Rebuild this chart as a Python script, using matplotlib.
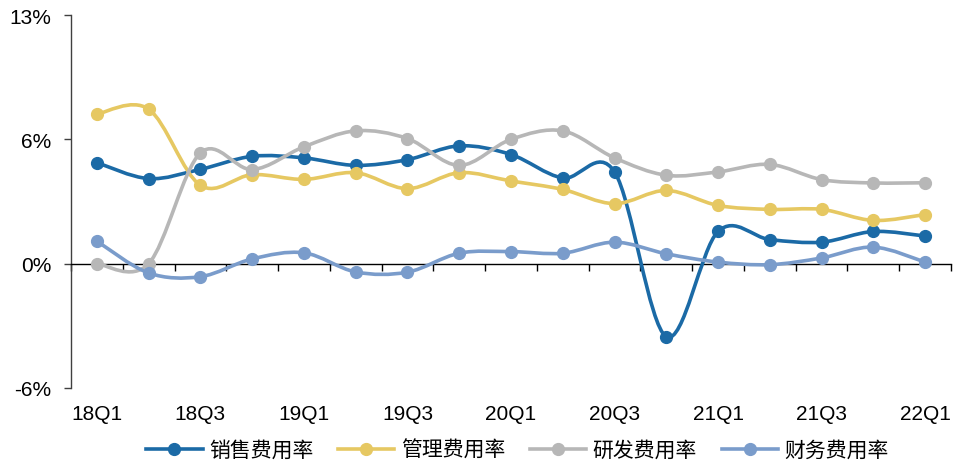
import numpy as np
import matplotlib
matplotlib.use("Agg")
import matplotlib.pyplot as plt
from matplotlib.path import Path
from matplotlib.patches import PathPatch
from matplotlib.lines import Line2D

plt.rcParams['font.family'] = ['Liberation Sans', 'DejaVu Sans']

# data (values in %)
quarters = ['18Q1', '18Q2', '18Q3', '18Q4', '19Q1', '19Q2', '19Q3', '19Q4', '20Q1',
            '20Q2', '20Q3', '20Q4', '21Q1', '21Q2', '21Q3', '21Q4', '22Q1']
sales_rate = [5.12, 4.31, 4.78, 5.44, 5.36, 4.98, 5.27, 5.97, 5.53,
              4.34, 4.65, -3.70, 1.63, 1.22, 1.09, 1.63, 1.40]
admin_rate = [7.58, 7.83, 3.97, 4.51, 4.27, 4.61, 3.80, 4.61, 4.19,
              3.76, 3.04, 3.71, 2.95, 2.75, 2.75, 2.19, 2.49]
rd_rate = [0.00, 0.00, 5.61, 4.77, 5.92, 6.73, 6.34, 4.98, 6.30,
           6.73, 5.36, 4.48, 4.65, 5.03, 4.26, 4.09, 4.10]
fin_rate = [1.14, -0.47, -0.66, 0.24, 0.55, -0.42, -0.43, 0.53, 0.61,
            0.53, 1.09, 0.50, 0.08, -0.05, 0.29, 0.84, 0.08]

series_names = ['销售费用率', '管理费用率', '研发费用率', '财务费用率']
colors = ['#1B6AA6', '#E6C862', '#B7B7B7', '#7A9CCB']
yticks = [-6.3, 0, 6.3, 12.6]
ytick_labels = ['-6%', '0%', '6%', '13%']


def smooth_path(x, y):
    # Catmull-Rom style cubic bezier through every point (like Excel smoothed lines)
    pts = np.column_stack([x, y]).astype(float)
    n = len(pts)
    verts = [pts[0]]
    codes = [Path.MOVETO]
    for i in range(n - 1):
        p0 = pts[i - 1] if i > 0 else pts[i]
        p1 = pts[i]
        p2 = pts[i + 1]
        p3 = pts[i + 2] if i + 2 < n else pts[i + 1]
        c1 = p1 + (p2 - p0) / 6.0
        c2 = p2 - (p3 - p1) / 6.0
        verts += [c1, c2, p2]
        codes += [Path.CURVE4] * 3
    return Path(verts, codes)


fig = plt.figure(figsize=(9.62, 4.64), dpi=100)
ax = fig.add_axes([71 / 962, 75 / 464, 880 / 962, 373 / 464])

x = np.arange(len(quarters))
all_series = [sales_rate, admin_rate, rd_rate, fin_rate]
for vals, c, name in zip(all_series, colors, series_names):
    patch = PathPatch(smooth_path(x, vals), facecolor='none', edgecolor=c,
                      lw=2.6, capstyle='round', joinstyle='round', zorder=3)
    ax.add_patch(patch)
    ax.plot(x, vals, 'o', color=c, ms=8.5, zorder=4)

ax.set_xlim(-0.5, len(quarters) - 0.5)
ax.set_ylim(-6.3, 12.6)

# axes styling
for s in ['top', 'right']:
    ax.spines[s].set_visible(False)
ax.spines['bottom'].set_position(('data', 0))
ax.spines['bottom'].set_color('#000000')
ax.spines['left'].set_color('#404040')
ax.spines['bottom'].set_linewidth(1.0)
ax.spines['left'].set_linewidth(1.0)

ax.set_xticks(np.arange(-0.5, len(quarters) + 0.5, 1.0))
ax.tick_params(axis='x', direction='out', length=5, width=1, labelbottom=False, color='#000000')
ax.set_yticks(yticks)
ax.set_yticklabels(ytick_labels)
ax.tick_params(axis='y', direction='out', length=5, width=1, labelsize=15, pad=9, color='#404040')

trans = ax.get_xaxis_transform()
for i, q in enumerate(quarters):
    if i % 2 == 0:
        ax.text(i, -0.068, q, transform=trans, ha='center', va='center', fontsize=15)

handles = [Line2D([], [], color=c, lw=2.6, marker='o', ms=8.5) for c in colors]
fig.legend(handles, series_names, loc='center', bbox_to_anchor=(0.538, 0.028), ncol=4,
           frameon=False, handlelength=2.7, handletextpad=0.3, columnspacing=1.2,
           prop={'family': ['Noto Sans CJK SC', 'DejaVu Sans'], 'size': 15})

fig.savefig('out.png', dpi=100)
